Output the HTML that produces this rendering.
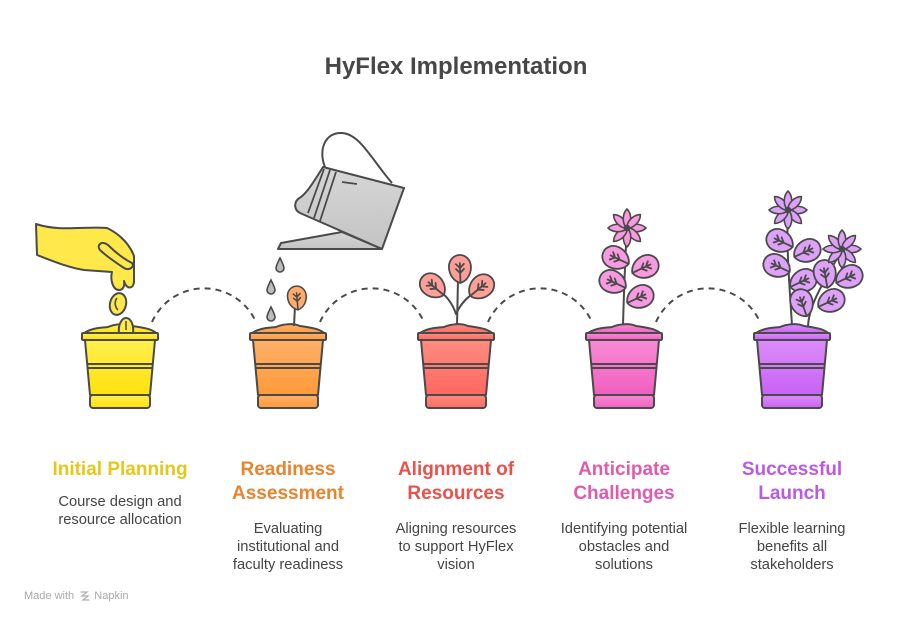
<!DOCTYPE html>
<html>
<head>
<meta charset="utf-8">
<style>
  html,body{margin:0;padding:0;background:#fff;}
  body{width:912px;height:624px;position:relative;overflow:hidden;font-family:"Liberation Sans",Arial,sans-serif;}
  svg{position:absolute;left:0;top:0;}
  .h{position:absolute;width:200px;text-align:center;font-weight:bold;font-size:19px;line-height:24px;}
  .d{position:absolute;width:200px;text-align:center;font-size:14.7px;line-height:18px;color:#444;}
  #title{position:absolute;left:0;width:912px;top:53px;text-align:center;font-weight:bold;font-size:24px;line-height:28px;color:#474747;}
  #foot{position:absolute;left:24px;top:589px;font-size:11px;line-height:14px;color:#a8a8a8;}
</style>
</head>
<body>
<svg width="912" height="624" viewBox="0 0 912 624" xmlns="http://www.w3.org/2000/svg">
<defs>
  <linearGradient id="gy" x1="0" y1="0" x2="0" y2="1"><stop offset="0" stop-color="#fff04d"/><stop offset="1" stop-color="#ffe10d"/></linearGradient>
  <linearGradient id="go" x1="0" y1="0" x2="0" y2="1"><stop offset="0" stop-color="#ffb068"/><stop offset="1" stop-color="#ff9a3a"/></linearGradient>
  <linearGradient id="gr" x1="0" y1="0" x2="0" y2="1"><stop offset="0" stop-color="#ff8c80"/><stop offset="1" stop-color="#ff6860"/></linearGradient>
  <linearGradient id="gp" x1="0" y1="0" x2="0" y2="1"><stop offset="0" stop-color="#f98ad6"/><stop offset="1" stop-color="#f060c0"/></linearGradient>
  <linearGradient id="gv" x1="0" y1="0" x2="0" y2="1"><stop offset="0" stop-color="#dc8cfa"/><stop offset="1" stop-color="#c862f6"/></linearGradient>
  <linearGradient id="gc" x1="0" y1="0" x2="0" y2="1"><stop offset="0" stop-color="#d6d6d6"/><stop offset="1" stop-color="#c4c4c4"/></linearGradient>
  <g id="pot" stroke="#4a4a4a" stroke-width="2" stroke-linejoin="round">
    <path d="M-37,334 C-30,328 -20,328 -12,327 C-5,324 5,323 12,326 C25,328 33,329 37,334 Z"/>
    <path d="M-35,340 L35,340 L30,395 L-30,395 Z"/>
    <rect x="-38" y="333" width="76" height="7" rx="1"/>
    <line x1="-33" y1="364" x2="33" y2="364"/>
    <line x1="-33" y1="368" x2="33" y2="368"/>
    <rect x="-30" y="395" width="60" height="13" rx="3"/>
  </g>
  <path id="leaf" d="M-14,0 C-12,-7 -5,-11 2,-11 C9,-11 14,-6 14,0 C14,6 9,11 2,11 C-5,11 -12,7 -14,0 Z M-14,0 L6,0 M1,0 L5,-4 M1,0 L5,4 M-4,0 L0,-4 M-4,0 L0,4" stroke="#4a4a4a" stroke-width="1.8" stroke-linejoin="round" stroke-linecap="round"/>
  <g id="flower" stroke="#4a4a4a" stroke-width="1.6" stroke-linejoin="round">
    <path d="M0,0 C4,-5 14,-5 19,0 C14,5 4,5 0,0 Z"/>
    <path transform="rotate(45)" d="M0,0 C4,-5 14,-5 19,0 C14,5 4,5 0,0 Z"/>
    <path transform="rotate(90)" d="M0,0 C4,-5 14,-5 19,0 C14,5 4,5 0,0 Z"/>
    <path transform="rotate(135)" d="M0,0 C4,-5 14,-5 19,0 C14,5 4,5 0,0 Z"/>
    <path transform="rotate(180)" d="M0,0 C4,-5 14,-5 19,0 C14,5 4,5 0,0 Z"/>
    <path transform="rotate(225)" d="M0,0 C4,-5 14,-5 19,0 C14,5 4,5 0,0 Z"/>
    <path transform="rotate(270)" d="M0,0 C4,-5 14,-5 19,0 C14,5 4,5 0,0 Z"/>
    <path transform="rotate(315)" d="M0,0 C4,-5 14,-5 19,0 C14,5 4,5 0,0 Z"/>
    <circle r="2.5" fill="#4a4a4a"/>
  </g>
  <path id="drop" d="M0,-7 C2.5,-2 4,1 4,3 A4,4 0 0 1 -4,3 C-4,1 -2.5,-2 0,-7 Z" fill="#bdbdbd" stroke="#4a4a4a" stroke-width="1.6"/>
</defs>

<!-- dashed arcs -->
<g fill="none" stroke="#4a4a4a" stroke-width="2" stroke-dasharray="6 5">
  <path d="M152,322 A57,57 0 0 1 256,322"/>
  <path d="M320,322 A57,57 0 0 1 424,322"/>
  <path d="M488,322 A57,57 0 0 1 592,322"/>
  <path d="M656,322 A57,57 0 0 1 760,322"/>
</g>

<!-- Pot 1: hand and seeds -->
<g stroke="#4a4a4a" stroke-width="2" stroke-linejoin="round" fill="#ffe94a">
  <path d="M36,224 L37,255 C55,262 70,268 84,270 L112,272 C110,280 113,290 119,290 C123,290 125,286 124,281 C126,289 133,290 134,282 L134,256 C130,245 120,234 107,228 C85,226 60,232 36,224 Z"/>
  <path d="M100,250 C96,245 102,240 108,245 C116,253 124,259 132,263 C135,267 129,271 124,268 C115,262 106,256 100,250 Z"/>
  <ellipse cx="118" cy="304" rx="8" ry="11" transform="rotate(15 118 304)"/>
  <path d="M117,298 C114,302 115,307 118,310" fill="none" stroke-width="1.6"/>
</g>
<g transform="translate(120,0)" fill="url(#gy)"><use href="#pot"/></g>
<g stroke="#4a4a4a" stroke-width="2" fill="#ffe94a">
  <path d="M119,333 C118,324 122,318 126,318 C131,318 134,325 133,333 Z"/>
  <path d="M126,321 L126,330" fill="none" stroke-width="1.5"/>
</g>

<!-- Pot 2: watering can, drops, sprout -->
<g stroke="#4a4a4a" stroke-width="2" stroke-linejoin="round" fill="url(#gc)">
  <path d="M325,167 C318,150 325,132 342,133 C360,134 372,160 392,183" fill="none"/>
  <path d="M278,249 L281,243 L342,232 L382,249 Z"/>
  <path d="M323,167 L404,188 L382,249 L300,213 C294,210 294,203 298,199 C305,195 310,188 323,167 Z"/>
  <path d="M324,169 L308,213 M330,170 L314,218 M336,172 L320,221" fill="none" stroke-width="1.8"/>
  <path d="M342,182 L357,184" fill="none" stroke-width="1.8"/>
</g>
<use href="#drop" x="280" y="265"/>
<use href="#drop" x="271" y="287"/>
<use href="#drop" x="271" y="314"/>
<g transform="translate(288,0)" fill="url(#go)"><use href="#pot"/></g>
<path d="M294,326 L295,306" stroke="#4a4a4a" stroke-width="2" fill="none"/>
<g transform="translate(297,298) rotate(-95) scale(0.85)" fill="#ffab6a"><use href="#leaf"/></g>

<!-- Pot 3 -->
<g fill="none" stroke="#4a4a4a" stroke-width="2" stroke-linecap="round">
  <path d="M457,325 L458,280"/>
  <path d="M456,314 C452,302 446,296 441,292"/>
  <path d="M457,312 C462,302 468,297 474,293"/>
</g>
<g fill="#ff9f98">
  <g transform="translate(460,269) rotate(-92)"><use href="#leaf"/></g>
  <g transform="translate(433,286) rotate(-140)"><use href="#leaf"/></g>
  <g transform="translate(481,287) rotate(-40)"><use href="#leaf"/></g>
</g>
<g transform="translate(456,0)" fill="url(#gr)"><use href="#pot"/></g>

<!-- Pot 4 -->
<path d="M623,325 C624,290 625,260 627,228" fill="none" stroke="#4a4a4a" stroke-width="2"/>
<g fill="#f79ae0">
  <g transform="translate(616,258) rotate(-155)"><use href="#leaf"/></g>
  <g transform="translate(645,267) rotate(-25)"><use href="#leaf"/></g>
  <g transform="translate(613,282) rotate(-155)"><use href="#leaf"/></g>
  <g transform="translate(640,297) rotate(-25)"><use href="#leaf"/></g>
  <g transform="translate(627,228)"><use href="#flower"/></g>
</g>
<g transform="translate(624,0)" fill="url(#gp)"><use href="#pot"/></g>

<!-- Pot 5 -->
<g fill="none" stroke="#4a4a4a" stroke-width="2">
  <path d="M792,326 C790,290 786,250 788,210"/>
  <path d="M808,328 C808,305 825,280 842,250"/>
</g>
<g fill="#dda2f7">
  <g transform="translate(780,241) rotate(-155)"><use href="#leaf"/></g>
  <g transform="translate(807,251) rotate(-25)"><use href="#leaf"/></g>
  <g transform="translate(777,266) rotate(-155)"><use href="#leaf"/></g>
  <g transform="translate(803,281) rotate(-25)"><use href="#leaf"/></g>
  <g transform="translate(802,303) rotate(-110)"><use href="#leaf"/></g>
  <g transform="translate(825,274) rotate(-100)"><use href="#leaf"/></g>
  <g transform="translate(831,301) rotate(-25)"><use href="#leaf"/></g>
  <g transform="translate(849,277) rotate(-25)"><use href="#leaf"/></g>
  <g transform="translate(788,210)"><use href="#flower"/></g>
  <g transform="translate(842,249)"><use href="#flower"/></g>
</g>
<g transform="translate(792,0)" fill="url(#gv)"><use href="#pot"/></g>

<!-- napkin logo -->
<g stroke="#b0b0b0" stroke-width="1.3" fill="none" stroke-linecap="round">
  <path d="M81,592 L87,592 L82,596 L88,596 L83,600 L89,600"/>
</g>
</svg>

<div id="title">HyFlex Implementation</div>

<div class="h" style="left:20px;top:458px;color:#e3c81a;">Initial Planning</div>
<div class="d" style="left:20px;top:493px;">Course design and<br>resource allocation</div>

<div class="h" style="left:188px;top:458px;color:#e8832e;">Readiness<br>Assessment</div>
<div class="d" style="left:188px;top:520px;">Evaluating<br>institutional and<br>faculty readiness</div>

<div class="h" style="left:356px;top:458px;color:#e8524a;">Alignment of<br>Resources</div>
<div class="d" style="left:356px;top:520px;">Aligning resources<br>to support HyFlex<br>vision</div>

<div class="h" style="left:524px;top:458px;color:#e05aae;">Anticipate<br>Challenges</div>
<div class="d" style="left:524px;top:520px;">Identifying potential<br>obstacles and<br>solutions</div>

<div class="h" style="left:692px;top:458px;color:#b95ae6;">Successful<br>Launch</div>
<div class="d" style="left:692px;top:520px;">Flexible learning<br>benefits all<br>stakeholders</div>

<div id="foot">Made with <span style="display:inline-block;width:14px;"></span> Napkin</div>
</body>
</html>
